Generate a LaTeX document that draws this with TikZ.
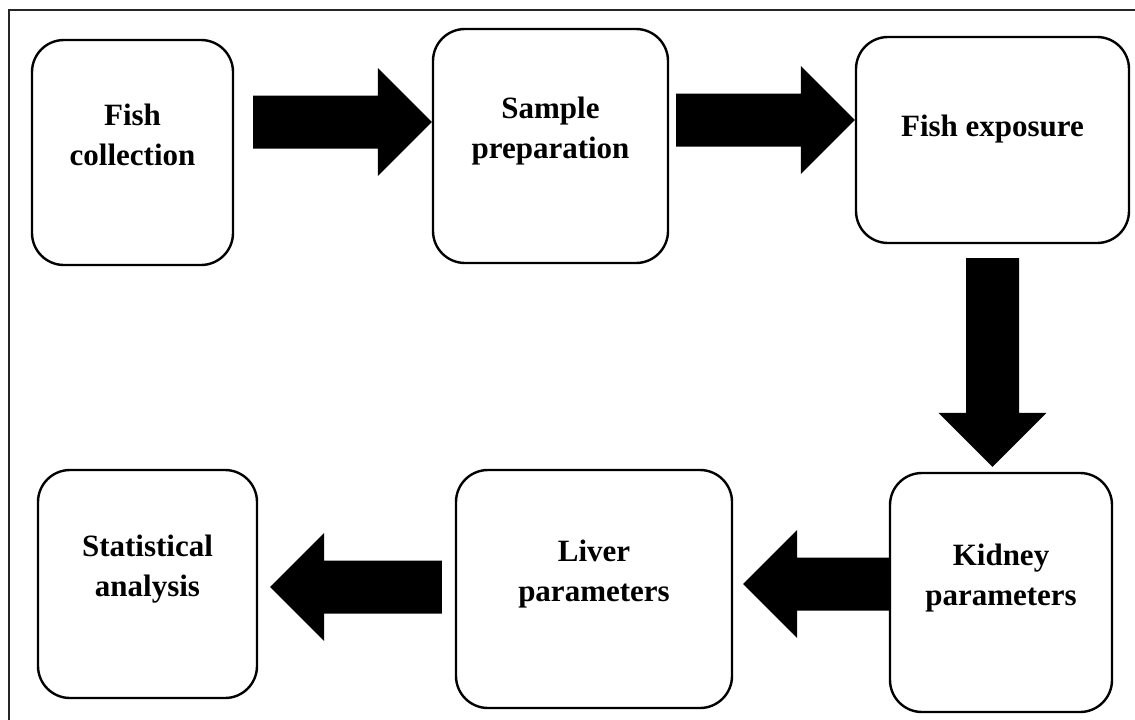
\documentclass[tikz,border=0pt]{standalone}
\usepackage{fontspec}
\setmainfont{Liberation Serif}
\usetikzlibrary{calc,positioning}

\begin{document}
\begin{tikzpicture}[x=1pt,y=-1pt,
  stage/.style={draw,line width=2.4pt,rounded corners=32pt,align=center,inner sep=0pt,
    font=\fontsize{31}{40}\selectfont\bfseries,
    execute at begin node={\rule{0pt}{28pt}},
    execute at end node={\rule[-36pt]{0pt}{36pt}}},
  blockarrow/.style={fill=black,to path={let \p1=($(\tikztotarget)!54pt!(\tikztostart)$) in
    ($(\tikztostart)!26.5pt!90:(\tikztotarget)$) -- ($(\p1)!26.5pt!90:(\tikztotarget)$)
    -- ($(\p1)!54pt!90:(\tikztotarget)$) -- (\tikztotarget)
    -- ($(\p1)!54pt!-90:(\tikztotarget)$) -- ($(\p1)!26.5pt!-90:(\tikztotarget)$)
    -- ($(\tikztostart)!26.5pt!-90:(\tikztotarget)$) -- cycle}}]

\useasboundingbox (0,0) rectangle (1135,720);
\clip (0,0) rectangle (1135,720);
\draw[line width=1.6pt,black!85] (9,10) rectangle (1150,735);

\node[stage,minimum width=201pt,minimum height=225pt] (fish)     at (132.5,152.5) {Fish\\collection};
\node[stage,minimum width=235pt,minimum height=234pt] (sample)   at (550.5,146)   {Sample\\preparation};
\node[stage,minimum width=273pt,minimum height=206pt] (exposure) at (992.5,140)   {Fish exposure};
\node[stage,minimum width=222pt,minimum height=239pt] (kidney)   at (1001,592.5)  {Kidney\\parameters};
\node[stage,minimum width=276pt,minimum height=238pt] (liver)    at (594,589)     {Liver\\parameters};
\node[stage,minimum width=219pt,minimum height=228pt] (stats)    at (147.5,584)   {Statistical\\analysis};

\coordinate (a1) at ($(fish.east)+(19,-30.5)$);
\coordinate (a2) at ($(sample.east)+(7,-26)$);
\coordinate (a3) at ($(exposure.south)+(0,14)$);
\coordinate (a4) at ($(kidney.west)+(0,-8.5)$);
\coordinate (a5) at ($(liver.west)+(-13,-2)$);

\path[blockarrow] (a1) to (sample.west |- a1)
                  (a2) to (exposure.west |- a2)
                  (a3) to ($(kidney.north -| a3)+(0,-5)$)
                  (a4) to ($(liver.east |- a4)+(10,0)$)
                  (a5) to ($(stats.east |- a5)+(12,0)$);
\end{tikzpicture}
\end{document}
